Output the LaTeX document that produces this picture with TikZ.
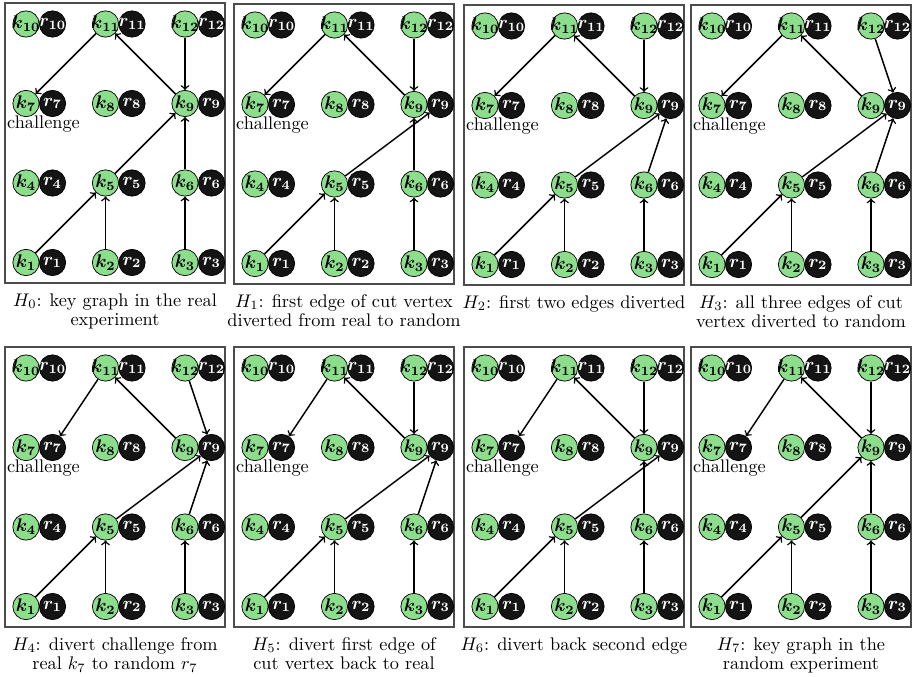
\documentclass[tikz,border=0pt]{standalone}
\usepackage{amsmath}
\definecolor{kgreen}{RGB}{140,221,140}
\tikzset{
  knode/.style={circle, draw=black, line width=0.4pt, fill=kgreen, minimum size=14.4pt, inner sep=0pt, font=\boldmath},
  rnode/.style={circle, draw=black, line width=0.4pt, fill=black!92, minimum size=14.4pt, inner sep=0pt, text=white, font=\boldmath},
  edge/.style={->, line width=0.8pt},
  panelbox/.style={draw=black!70, line width=0.6pt},
  capt/.style={align=center, anchor=north, inner sep=0pt, font=\normalsize},
  chlabel/.style={inner sep=0pt},
}
\newcommand{\mypanel}[4]{%
  \begin{scope}[shift={(#1,#2)}]
    \draw[panelbox] (0,0) rectangle (220,280);
    \foreach \ii in {1,...,12}{
      \pgfmathtruncatemacro{\cc}{mod(\ii-1,3)}
      \pgfmathtruncatemacro{\rr}{3-div(\ii-1,3)}
      \node[knode] (#3k\ii) at (21+79.5*\cc, 21+79.5*\rr) {\makebox[0pt]{$k_{\ii}$}};
      \node[rnode] (#3r\ii) at (47.5+79.5*\cc, 21+79.5*\rr) {\makebox[0pt]{$r_{\ii}$}};
    }
    \node[chlabel] (#3ch) at (38.5, 121) {challenge};
    \node[capt] (#3cap) at (110, 290) {#4};
  \end{scope}
  \draw[edge] (#3k1) -- (#3k5);
  \draw[edge] (#3k2) -- (#3k5);
  \draw[edge] (#3k3) -- (#3k6);
  \draw[edge] (#3k9) -- (#3k11);
}
\begin{document}
\begin{tikzpicture}[x=0.547pt, y=-0.547pt]
\useasboundingbox (0,0) rectangle (914,677);

\mypanel{5}{3}{a}{$H_0$: key graph in the real\\[-1.5pt] experiment}
\draw[edge] (ak11) -- (ak7);
\draw[edge] (ak12) -- (ak9);
\draw[edge] (ak5) -- (ak9);
\draw[edge] (ak6) -- (ak9);

\mypanel{234}{4}{b}{$H_1$: first edge of cut vertex\\[-1.5pt] diverted from real to random}
\draw[edge] (bk11) -- (bk7);
\draw[edge] (bk12) -- (bk9);
\draw[edge] (bk5) -- (br9);
\draw[edge] (bk6) -- (bk9);

\mypanel{464}{5}{c}{$H_2$: first two edges diverted}
\draw[edge] (ck11) -- (ck7);
\draw[edge] (ck12) -- (ck9);
\draw[edge] (ck5) -- (cr9);
\draw[edge] (ck6) -- (cr9);

\mypanel{691}{5}{d}{$H_3$: all three edges of cut\\[-1.5pt] vertex diverted to random}
\draw[edge] (dk11) -- (dk7);
\draw[edge] (dk12) -- (dr9);
\draw[edge] (dk5) -- (dr9);
\draw[edge] (dk6) -- (dr9);

\mypanel{5}{347}{e}{$H_4$: divert challenge from\\[-1.5pt] real $k_7$ to random $r_7$}
\draw[edge] (ek11) -- (er7);
\draw[edge] (ek12) -- (er9);
\draw[edge] (ek5) -- (er9);
\draw[edge] (ek6) -- (er9);

\mypanel{234}{347}{f}{$H_5$: divert first edge of\\[-1.5pt] cut vertex back to real}
\draw[edge] (fk11) -- (fr7);
\draw[edge] (fk12) -- (fk9);
\draw[edge] (fk5) -- (fr9);
\draw[edge] (fk6) -- (fr9);

\mypanel{464}{347}{g}{$H_6$: divert back second edge}
\draw[edge] (gk11) -- (gr7);
\draw[edge] (gk12) -- (gk9);
\draw[edge] (gk5) -- (gr9);
\draw[edge] (gk6) -- (gk9);

\mypanel{691}{347}{h}{$H_7$: key graph in the\\[-1.5pt] random experiment}
\draw[edge] (hk11) -- (hr7);
\draw[edge] (hk12) -- (hk9);
\draw[edge] (hk5) -- (hk9);
\draw[edge] (hk6) -- (hk9);
\end{tikzpicture}
\end{document}
